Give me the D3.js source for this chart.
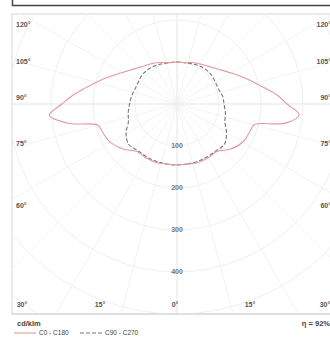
<!DOCTYPE html>
<html><head><meta charset="utf-8">
<script src="https://cdn.jsdelivr.net/npm/d3@7"></script>
<style>body{margin:0;background:#fff}svg{display:block}text{font-family:"Liberation Sans",Arial,sans-serif}</style>
</head><body>
<script>
// gamma angles (deg from nadir)
const gammas = [0,10,20,30,40,50,60,70,75,80,85,90,95,100,110,120,130,140,150,160,170,180];
// C0 - C180 plane (cd/klm)
const c0 =   [145,145,148,148,148,167,181,186,190,262,292,262,240,214,176,148,129,117,110,105,100,100];
const c180 = [145,145,148,148,148,167,183,190,195,264,305,274,248,221,181,150,131,119,112,105,100,100];
// C90 - C270 plane (cd/klm)
const c90 =  [145,145,145,145,145,148,136,121,119,117,114,112,111,110,105,105,107,107,105,102,100,100];
const c270 = [145,145,145,145,145,150,140,123,120,118,115,113,111,110,106,106,108,107,105,102,100,100];
const radialTicks = [100,200,300,400];
const sideLabels = ["120°","105°","90°","75°","60°"];
const bottomLabels = ["30°","15°","0°","15°","30°"];
const seriesNames = ["C0 - C180","C90 - C270"];

const W=330,H=338;
const svg=d3.select("body").append("svg").attr("width",W).attr("height",H);
const cx=177, cy=104;
const r=d3.scaleLinear().domain([0,100]).range([0,42]);
const fx={x0:12,y0:14,x1:336,y1:314};

// top box
svg.append("rect").attr("x",12.5).attr("y",-10).attr("width",330).attr("height",15.5)
  .attr("fill","#fff").attr("stroke","#444").attr("stroke-width",1.5);

// plot frame
svg.append("rect").attr("x",fx.x0).attr("y",fx.y0).attr("width",fx.x1-fx.x0).attr("height",fx.y1-fx.y0)
  .attr("fill","#fff").attr("stroke","#e4e4e4").attr("stroke-width",1.5);

svg.append("clipPath").attr("id","c").append("rect")
  .attr("x",fx.x0).attr("y",fx.y0).attr("width",fx.x1-fx.x0).attr("height",fx.y1-fx.y0);
const g=svg.append("g").attr("clip-path","url(#c)");

// grid circles
d3.range(1,9).forEach(k=>{
  g.append("circle").attr("cx",cx).attr("cy",cy).attr("r",r(k*100))
   .attr("fill","none").attr("stroke","#f0f0f0").attr("stroke-width",1);
});
// grid rays
d3.range(0,360,15).forEach(a=>{
  const rad=a*Math.PI/180;
  g.append("line").attr("x1",cx).attr("y1",cy)
   .attr("x2",cx+500*Math.sin(rad)).attr("y2",cy+500*Math.cos(rad))
   .attr("stroke","#f3f3f3").attr("stroke-width",1);
});
g.append("line").attr("x1",fx.x0).attr("x2",fx.x1).attr("y1",cy).attr("y2",cy).attr("stroke","#ebebeb");
g.append("line").attr("x1",cx).attr("x2",cx).attr("y1",fx.y0).attr("y2",fx.y1).attr("stroke","#ebebeb");

// curves
function pts(right,left){
  const a=[];
  gammas.forEach((gm,i)=>a.push([Math.PI-gm*Math.PI/180, r(right[i])]));
  for(let i=gammas.length-2;i>=1;i--) a.push([Math.PI+gammas[i]*Math.PI/180, r(left[i])]);
  return a;
}
const lr=d3.lineRadial().curve(d3.curveCatmullRomClosed.alpha(0.5));
g.append("path").attr("transform",`translate(${cx},${cy})`).attr("d",lr(pts(c90,c270)))
  .attr("fill","none").attr("stroke","#777").attr("stroke-width",1.1).attr("stroke-dasharray","4,2");
g.append("path").attr("transform",`translate(${cx},${cy})`).attr("d",lr(pts(c0,c180)))
  .attr("fill","none").attr("stroke","#e39a9a").attr("stroke-width",1.1);

// radial labels
radialTicks.forEach(t=>{
  svg.append("text").attr("x",cx).attr("y",cy+r(t)).attr("dy","0.35em").attr("text-anchor","middle")
   .attr("font-size",7).attr("font-weight","bold").attr("fill","#777").text(t);
});
// side labels
const sideY=[25,62,98,144,206];
sideLabels.forEach((s,i)=>{
  svg.append("text").attr("x",16).attr("y",sideY[i]).attr("dy","0.35em").attr("font-size",7).attr("font-weight","bold").attr("fill","#555").text(s);
  svg.append("text").attr("x",331).attr("y",sideY[i]).attr("dy","0.35em").attr("text-anchor","end").attr("font-size",7).attr("font-weight","bold").attr("fill","#555").text(s);
});
const bx=[22,100,175,250,325];
bottomLabels.forEach((s,i)=>{
  svg.append("text").attr("x",bx[i]).attr("y",305).attr("dy","0.35em").attr("text-anchor","middle").attr("font-size",7).attr("font-weight","bold").attr("fill","#555").text(s);
});

// bottom line
svg.append("line").attr("x1",12).attr("x2",338).attr("y1",314).attr("y2",314).attr("stroke","#d4d4d4").attr("stroke-width",1);
svg.append("text").attr("x",17).attr("y",323).attr("dy","0.35em").attr("font-size",7.5).attr("font-weight","bold").attr("fill","#444").text("cd/klm");
svg.append("text").attr("x",330).attr("y",323).attr("dy","0.35em").attr("text-anchor","end").attr("font-size",7.5).attr("font-weight","bold").attr("fill","#444").text("η = 92%");

// legend
const leg=[{x:14,c:"#e39a9a",d:null},{x:80,c:"#777",d:"4,2"}];
leg.forEach((l,i)=>{
  svg.append("line").attr("x1",l.x).attr("x2",l.x+22).attr("y1",333).attr("y2",333).attr("stroke",l.c).attr("stroke-width",1.1).attr("stroke-dasharray",l.d);
  svg.append("text").attr("x",l.x+25).attr("y",333).attr("dy","0.35em").attr("font-size",6.5).attr("fill","#444").text(seriesNames[i]);
});
</script>
</body></html>
